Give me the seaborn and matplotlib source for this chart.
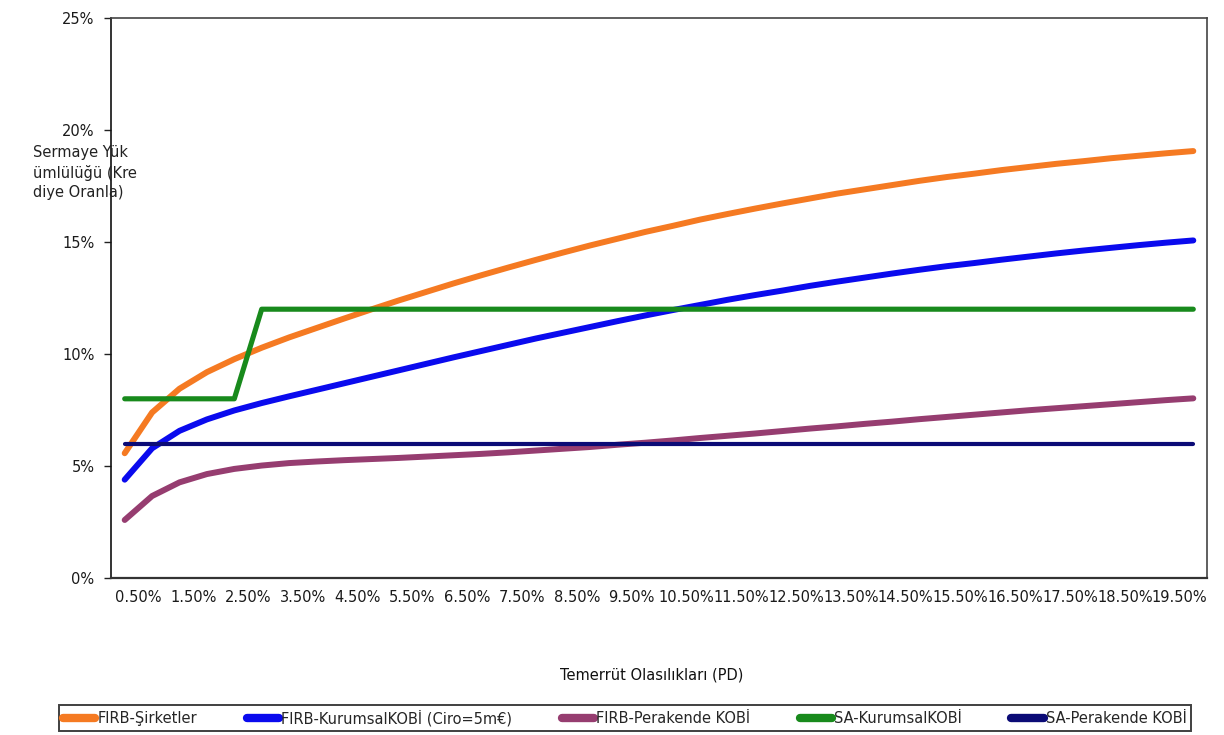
import matplotlib
matplotlib.use("Agg")
import matplotlib.pyplot as plt
import pandas as pd
import seaborn as sns
from matplotlib.lines import Line2D

# Default probabilities (PD, %) on the category axis
pd_levels = [0.5, 1.0, 1.5, 2.0, 2.5, 3.0, 3.5, 4.0, 4.5, 5.0,
             5.5, 6.0, 6.5, 7.0, 7.5, 8.0, 8.5, 9.0, 9.5, 10.0,
             10.5, 11.0, 11.5, 12.0, 12.5, 13.0, 13.5, 14.0, 14.5, 15.0,
             15.5, 16.0, 16.5, 17.0, 17.5, 18.0, 18.5, 19.0, 19.5, 20.0]

# Capital requirement as a share of the loan (%)
firb_corporate = [5.57, 7.39, 8.45, 9.19, 9.77, 10.28, 10.74, 11.16, 11.58, 11.99,
                  12.39, 12.77, 13.15, 13.51, 13.86, 14.20, 14.53, 14.85, 15.15, 15.45,
                  15.72, 16.00, 16.25, 16.49, 16.72, 16.94, 17.16, 17.35, 17.54, 17.73,
                  17.90, 18.05, 18.21, 18.35, 18.49, 18.61, 18.74, 18.85, 18.96, 19.06]
firb_sme_corporate = [4.39, 5.79, 6.57, 7.08, 7.48, 7.81, 8.11, 8.40, 8.69, 8.98,
                      9.27, 9.56, 9.85, 10.13, 10.41, 10.69, 10.95, 11.21, 11.47, 11.72,
                      11.96, 12.19, 12.42, 12.63, 12.83, 13.04, 13.23, 13.41, 13.59, 13.76,
                      13.92, 14.06, 14.21, 14.35, 14.49, 14.62, 14.74, 14.86, 14.97, 15.07]
firb_sme_retail = [2.59, 3.66, 4.27, 4.64, 4.87, 5.02, 5.13, 5.20, 5.26, 5.31,
                   5.36, 5.42, 5.48, 5.54, 5.61, 5.69, 5.77, 5.85, 5.95, 6.04,
                   6.14, 6.25, 6.35, 6.45, 6.56, 6.67, 6.77, 6.88, 6.98, 7.09,
                   7.19, 7.29, 7.39, 7.49, 7.58, 7.67, 7.76, 7.85, 7.94, 8.02]
sa_sme_corporate = [8, 8, 8, 8, 8, 12, 12, 12, 12, 12,
                    12, 12, 12, 12, 12, 12, 12, 12, 12, 12,
                    12, 12, 12, 12, 12, 12, 12, 12, 12, 12,
                    12, 12, 12, 12, 12, 12, 12, 12, 12, 12]
sa_sme_retail = [6, 6, 6, 6, 6, 6, 6, 6, 6, 6,
                 6, 6, 6, 6, 6, 6, 6, 6, 6, 6,
                 6, 6, 6, 6, 6, 6, 6, 6, 6, 6,
                 6, 6, 6, 6, 6, 6, 6, 6, 6, 6]

series_names = ["FIRB-Şirketler", "FIRB-KurumsalKOBİ (Ciro=5m€)",
                "FIRB-Perakende KOBİ", "SA-KurumsalKOBİ", "SA-Perakende KOBİ"]
series_values = [firb_corporate, firb_sme_corporate, firb_sme_retail,
                 sa_sme_corporate, sa_sme_retail]

x_tick_labels = ["0.50%", "1.50%", "2.50%", "3.50%", "4.50%", "5.50%", "6.50%",
                 "7.50%", "8.50%", "9.50%", "10.50%", "11.50%", "12.50%", "13.50%",
                 "14.50%", "15.50%", "16.50%", "17.50%", "18.50%", "19.50%"]
y_tick_values = [0, 5, 10, 15, 20, 25]

colors = {
    "FIRB-Şirketler": "#F57A22",
    "FIRB-KurumsalKOBİ (Ciro=5m€)": "#0A0AEE",
    "FIRB-Perakende KOBİ": "#963D70",
    "SA-KurumsalKOBİ": "#188A1C",
    "SA-Perakende KOBİ": "#0B0B76",
}
widths = {
    "FIRB-Şirketler": 4.3,
    "FIRB-KurumsalKOBİ (Ciro=5m€)": 4.3,
    "FIRB-Perakende KOBİ": 4.3,
    "SA-KurumsalKOBİ": 3.7,
    "SA-Perakende KOBİ": 3.0,
}

# Long-form table: one row per (series, PD level)
rows = []
for name, vals in zip(series_names, series_values):
    for pos, (p, v) in enumerate(zip(pd_levels, vals)):
        rows.append({"seri": name, "sira": pos, "PD": p, "oran": v})
df = pd.DataFrame(rows)

sns.set_theme(style="white")
plt.rcParams["font.family"] = ["DejaVu Sans"]
FS = 10.5

fig = plt.figure(figsize=(12.24, 7.35), dpi=100)
fig.patch.set_facecolor("white")
ax = fig.add_axes([111 / 1224, 1 - 578 / 735, (1207 - 111) / 1224, (578 - 18) / 735])

for name in series_names:
    sns.lineplot(data=df[df["seri"] == name], x="sira", y="oran",
                 color=colors[name], linewidth=widths[name], ax=ax,
                 legend=False, solid_capstyle="round", solid_joinstyle="round")

ax.set_xlim(-0.5, len(pd_levels) - 0.5)
ax.set_ylim(0, 25)
ax.set_xticks([0.5 + 2 * k for k in range(len(x_tick_labels))])
ax.set_xticklabels(x_tick_labels, fontsize=FS, color="#1a1a1a")
ax.set_yticks(y_tick_values)
ax.set_yticklabels([f"{v}%" for v in y_tick_values], fontsize=FS, color="#1a1a1a")
ax.set_xlabel("")
ax.set_ylabel("")
ax.tick_params(axis="x", length=0, pad=9)
ax.tick_params(axis="y", left=True, direction="out", length=5, width=1.0,
               color="#222222", pad=7)

for side, sp in ax.spines.items():
    sp.set_visible(True)
    sp.set_color("#444444")
    sp.set_linewidth(1.2)
ax.spines["left"].set_color("#111111")
ax.spines["bottom"].set_color("#333333")
ax.spines["bottom"].set_linewidth(1.6)

fig.text(33 / 1224, 1 - 145 / 735, "Sermaye Yük\nümlülüğü (Kre\ndiye Oranla)",
         ha="left", va="top", fontsize=FS, linespacing=1.35, color="#222222")
fig.text(652 / 1224, 1 - 675 / 735, "Temerrüt Olasılıkları (PD)",
         ha="center", va="center", fontsize=FS, color="#111111")

handles = [Line2D([0], [0], color=colors[n], lw=6, solid_capstyle="round")
           for n in series_names]
leg = fig.legend(handles, series_names, loc="center",
                 bbox_to_anchor=(625 / 1224, 1 - 718 / 735), ncol=5,
                 frameon=True, fancybox=False, edgecolor="#111111",
                 handlelength=2.2, handletextpad=0.15, columnspacing=3.4,
                 borderpad=0.3, borderaxespad=0, fontsize=FS)
leg.get_frame().set_linewidth(1.4)

fig.savefig("out.png", dpi=100, facecolor="white")
